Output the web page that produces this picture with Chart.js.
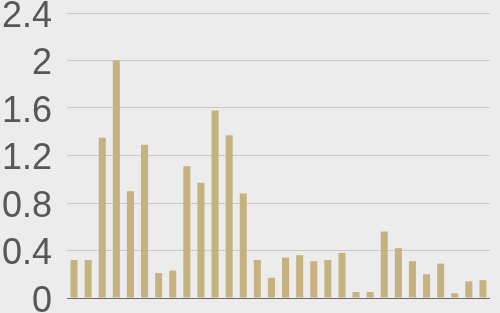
<!DOCTYPE html>
<html><head><meta charset="utf-8">
<script src="https://cdn.jsdelivr.net/npm/chart.js@4"></script>
<style>html,body{margin:0;padding:0;background:#ececec;}#wrap{width:500px;height:313px;}</style>
</head><body><div id="wrap"><canvas id="c"></canvas></div>
<script>
const categories = Array.from({length:30},(_,i)=>String(i+1));
const values = [0.32,0.32,1.35,2.0,0.9,1.29,0.21,0.23,1.11,0.97,1.58,1.37,0.88,0.32,0.17,0.34,0.36,0.31,0.32,0.38,0.05,0.05,0.56,0.42,0.31,0.2,0.29,0.04,0.14,0.15];
const yTicks = [0,0.4,0.8,1.2,1.6,2,2.4];
new Chart(document.getElementById('c'),{
  type:'bar',
  data:{labels:categories,datasets:[{data:values,backgroundColor:'#c6b27e',barPercentage:0.5,categoryPercentage:1}]},
  options:{
    responsive:true,maintainAspectRatio:false,animation:false,
    layout:{padding:{top:13,right:10,bottom:15,left:0}},
    plugins:{legend:{display:false},tooltip:{enabled:false}},
    scales:{
      x:{display:false},
      y:{min:0,max:2.4,
        afterBuildTicks:s=>{s.ticks=yTicks.map(v=>({value:v}));},
        afterFit:s=>{s.width=67;s.paddingTop=0;s.paddingBottom=0;},
        border:{display:false},
        grid:{drawTicks:false,color:c=>c.tick&&c.tick.value===0?'#6b6b6b':'#c9c9c9',lineWidth:1},
        ticks:{autoSkip:false,padding:15,labelOffset:4,color:'#575757',font:{family:'Liberation Sans',size:36},callback:v=>String(v)}
      }
    }
  }
});
</script></body></html>
